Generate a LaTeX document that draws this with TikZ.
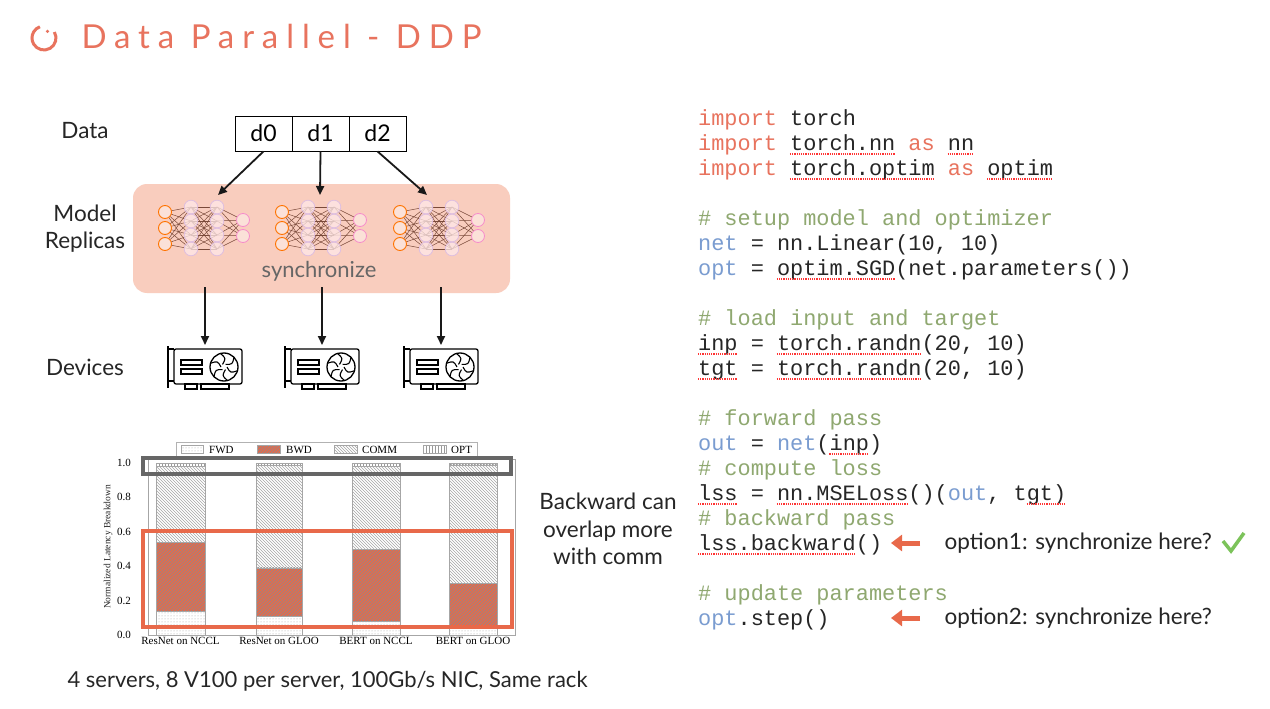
\documentclass[tikz,border=0pt]{standalone}
\usepackage{fontspec}
\setmainfont{Lato}
\setmonofont{Liberation Mono}
\newfontfamily\serifchart{Liberation Serif}
\newfontfamily\titlefont{Lato}[LetterSpace=24]
\usetikzlibrary{patterns,arrows.meta}
\definecolor{ptorange}{HTML}{E8735E}
\definecolor{hlorange}{HTML}{E8694A}
\definecolor{kwred}{HTML}{E8735E}
\definecolor{cmgreen}{HTML}{8FA870}
\definecolor{varblue}{HTML}{7A9CD0}
\definecolor{boxpink}{HTML}{F9CDBE}
\definecolor{nnbrown}{HTML}{7A4A3A}
\definecolor{checkgreen}{HTML}{7CC35A}
\newcommand{\kw}[1]{\textcolor{kwred}{#1}}
\newcommand{\cm}[1]{\textcolor{cmgreen}{#1}}
\newcommand{\vb}[1]{\textcolor{varblue}{#1}}
\begin{document}
\begin{tikzpicture}[x=1pt,y=-1pt,
  lab/.style={font=\fontsize{22.5}{26}\selectfont,text=black!85},
  code/.style={anchor=base west,inner sep=0pt,font=\fontsize{21.9}{24}\ttfamily,text=black!85},
  squig/.style={draw=red!80,densely dotted,line width=1.2pt},
  darr/.style={-{Triangle[length=9pt,width=8pt]},line width=1.8pt,black!90},
  harr/.style={-{Triangle[length=11pt,width=16pt]},line width=5pt,hlorange},
  cell/.style={draw,line width=0.8pt,minimum width=57pt,minimum height=35pt,inner sep=0pt,font=\fontsize{23}{24}\selectfont},
  tick/.style={font=\serifchart\fontsize{11}{12}\selectfont,inner sep=1pt},
  bar/.style={draw=gray!70,line width=0.4pt}
]
\useasboundingbox (0,0) rectangle (1270,709);
\fill[white] (0,0) rectangle (1270,709);

% title
\draw[ptorange,line width=3pt] (44,38) ++(-30:12) arc (-30:250:12);
\fill[ptorange] (44,38) ++(-62:7.5) circle (1.8);
\node[anchor=west,text=ptorange,font=\titlefont\fontsize{33}{36}\selectfont] (title) at (78,36) {Data Parallel - DDP};

% labels
\node[lab] (ldata) at (85,131) {Data};
\node[lab,align=center,font=\fontsize{22.5}{27}\selectfont] (lmodel) at (85,229) {Model\\Replicas};
\node[lab] (ldev) at (85,367) {Devices};

% data cells
\node[cell] (d0) at (263.5,133.5) {d0};
\node[cell] (d1) at (320.5,133.5) {d1};
\node[cell] (d2) at (377.5,133.5) {d2};

% pink box
\node[fill=boxpink,rounded corners=14pt,minimum width=377pt,minimum height=109pt,inner sep=0pt] (rep) at (321.5,238.5) {};

% nn icons
\foreach \cx/\nm in {205/n0,322/n1,440/n2}{
  \begin{scope}[shift={(\cx,228)}]
    \foreach \a in {-16,0,16}{\foreach \b in {-21,-7,7,21}{\draw[nnbrown,line width=0.5pt] (-40,\a) -- (-14,\b);}}
    \foreach \a in {-21,-7,7,21}{\foreach \b in {-21,-7,7,21}{\draw[nnbrown,line width=0.5pt] (-14,\a) -- (12,\b);}}
    \foreach \a in {-21,-7,7,21}{\foreach \b in {-8,8}{\draw[nnbrown,line width=0.5pt] (12,\a) -- (38,\b);}}
    \foreach \a in {-16,0,16}{\draw[orange!90!red,line width=0.9pt,fill=boxpink!60] (-40,\a) circle (6.5);}
    \foreach \x in {-14,12}{\foreach \a in {-21,-7,7,21}{\draw[violet!25,line width=0.8pt,fill=pink!35,fill opacity=0.75] (\x,\a) circle (6.8);}}
    \foreach \a in {-8,8}{\draw[magenta!45,line width=0.8pt,fill=boxpink!60] (38,\a) circle (6.5);}
    \coordinate (\nm) at (0,0);
  \end{scope}
}
\node[text=black!60,font=\fontsize{22}{24}\selectfont] (sync) at (319,271) {synchronize};

% arrows data -> replicas
\coordinate (t0) at (218,195); \coordinate (t1) at (320,195); \coordinate (t2) at (427,195);
\draw[darr] (d0.south) -- (t0);
\draw[darr] (d1.south) -- (t1);
\draw[darr] (d2.south) -- (t2);

% gpus
\foreach \cx/\nm in {205/g0,322/g1,441/g2}{
  \begin{scope}[shift={(\cx,367)}]
    \coordinate (\nm) at (0,-22);
    \draw[line width=1.3pt,rounded corners=2pt] (-31,-18) rectangle (37,17);
    \draw[line width=1.3pt] (-37,-21) -- (-37,21);
    \draw[line width=1.3pt] (-37,-18) -- (-31,-18) (-37,14) -- (-31,14);
    \draw[line width=1.1pt] (-20,17) rectangle (-8,22) (-4,17) rectangle (24,22);
    \draw[line width=1.3pt] (-24,-7) rectangle (-3,-2) (-24,2) rectangle (-3,7);
    \draw[line width=1.3pt] (19,0) circle (14);
    \foreach \r in {0,60,...,300}{\draw[line width=1.1pt] (19,0) ++(\r:3) .. controls ++(\r+60:7) .. ++(\r+20:11);}
  \end{scope}
}
\draw[darr] (205,287) -- (g0);
\draw[darr] (322,287) -- (g1);
\draw[darr] (441,287) -- (g2);

% chart
\draw[gray!70,line width=0.6pt] (148,459) rectangle (515,635);
\foreach \v/\l in {0/0.0,0.2/0.2,0.4/0.4,0.6/0.6,0.8/0.8,1/1.0}{
  \node[tick,anchor=east] (yt\l) at (132,635-172*\v) {\l};
}
\node[rotate=90,font=\serifchart\fontsize{9.5}{10}\selectfont,text=black!85] (ylab) at (108,547) {Normalized Latency Breakdown};
\foreach \xl/\xr/\f/\b/\c/\nm in {156/205/0.14/0.54/0.98/ResNet on NCCL,256/302/0.11/0.39/0.985/ResNet on GLOO,352/400/0.08/0.50/0.98/BERT on NCCL,449/497/0.05/0.30/0.99/BERT on GLOO}{
  \fill[white] (\xl,635) rectangle (\xr,635-172);
  \draw[bar,pattern=dots,pattern color=gray!70] (\xl,635) rectangle (\xr,635-172*\f);
  \fill[hlorange] (\xl,635-172*\f) rectangle (\xr,635-172*\b);
  \draw[bar,pattern=north east lines,pattern color=black!45] (\xl,635-172*\f) rectangle (\xr,635-172*\b);
  \draw[bar,pattern=north west lines,pattern color=gray!70] (\xl,635-172*\b) rectangle (\xr,635-172*\c);
  \draw[bar,pattern=vertical lines,pattern color=gray!80] (\xl,635-172*\c) rectangle (\xr,635-172);
  \node[tick,anchor=north] at ({(\xl+\xr)/2},636) {\nm};
}
% legend
\node[draw=gray!60,fill=white,minimum width=301pt,minimum height=14pt,inner sep=0pt] (leg) at (326.5,449) {};
\draw[bar,pattern=dots,pattern color=gray!70] (181,445) rectangle (203,453);
\node[tick,anchor=west] (lf) at (208,449.5) {FWD};
\fill[hlorange] (257,445) rectangle (280,453);
\draw[bar,pattern=north east lines,pattern color=black!45] (257,445) rectangle (280,453);
\node[tick,anchor=west] (lb) at (285,449.5) {BWD};
\draw[bar,pattern=north west lines,pattern color=gray!70] (334,445) rectangle (357,453);
\node[tick,anchor=west] (lc) at (361,449.5) {COMM};
\draw[bar,pattern=vertical lines,pattern color=gray!80] (423,445) rectangle (446,453);
\node[tick,anchor=west] (lo) at (450,449.5) {OPT};
% highlight boxes
\node[draw=gray!80!black,line width=4pt,minimum width=368pt,minimum height=16pt,inner sep=0pt] (gbox) at (327,466) {};
\node[draw=hlorange,line width=4pt,minimum width=369pt,minimum height=96pt,inner sep=0pt] (obox) at (327.5,579) {};

\node[lab,align=center,font=\fontsize{22.5}{27.5}\selectfont] (back) at (608,529) {Backward can\\overlap more\\with comm};
\node[lab,anchor=west,font=\fontsize{22}{26}\selectfont] (foot) at (64,681) {4 servers, 8 V100 per server, 100Gb/s NIC, Same rack};

% code
\def\cx{698}
\node[code] (c1) at (\cx,125) {\kw{import} torch};
\node[code] (c2) at (\cx,150) {\kw{import} torch.nn \kw{as} nn};
\node[code] (c3) at (\cx,175) {\kw{import} torch.optim \kw{as} optim};
\node[code] (c4) at (\cx,225) {\cm{\# setup model and optimizer}};
\node[code] (c5) at (\cx,250) {\vb{net} = nn.Linear(10, 10)};
\node[code] (c6) at (\cx,275) {\vb{opt} = optim.SGD(net.parameters())};
\node[code] (c7) at (\cx,325) {\cm{\# load input and target}};
\node[code] (c8) at (\cx,350) {inp = torch.randn(20, 10)};
\node[code] (c9) at (\cx,375) {tgt = torch.randn(20, 10)};
\node[code] (c10) at (\cx,425) {\cm{\# forward pass}};
\node[code] (c11) at (\cx,450) {\vb{out} = \vb{net}(inp)};
\node[code] (c12) at (\cx,475) {\cm{\# compute loss}};
\node[code] (c13) at (\cx,500) {lss = nn.MSELoss()(\vb{out}, tgt)};
\node[code] (c14) at (\cx,525) {\cm{\# backward pass}};
\node[code] (c15) at (\cx,550) {lss.backward()};
\node[code] (c16) at (\cx,600) {\cm{\# update parameters}};
\node[code] (c17) at (\cx,625) {\vb{opt}.step()};
% squiggles (char width 13.14)
\foreach \yy/\a/\b in {150/7/15,150/19/21,175/7/18,175/22/27,275/6/15,350/0/3,350/6/17,375/0/3,375/6/17,450/10/13,500/0/3,500/6/16,500/25/28,550/0/12}{
  \draw[squig] (698+13.14*\a,\yy+4) -- (698+13.14*\b,\yy+4);
}

% option arrows
\coordinate (a1s) at (920,543); \coordinate (a1e) at (891,543);
\coordinate (a2s) at (920,618); \coordinate (a2e) at (891,618);
\draw[harr] (a1s) -- (a1e);
\draw[harr] (a2s) -- (a2e);
\node[lab,anchor=west] (o1) at (941,543) {option1: synchronize here?};
\node[lab,anchor=west] (o2) at (941,618) {option2: synchronize here?};
\draw[checkgreen,line width=3.5pt] (1223,541) -- (1231,551) -- (1244,533);
\end{tikzpicture}
\end{document}
